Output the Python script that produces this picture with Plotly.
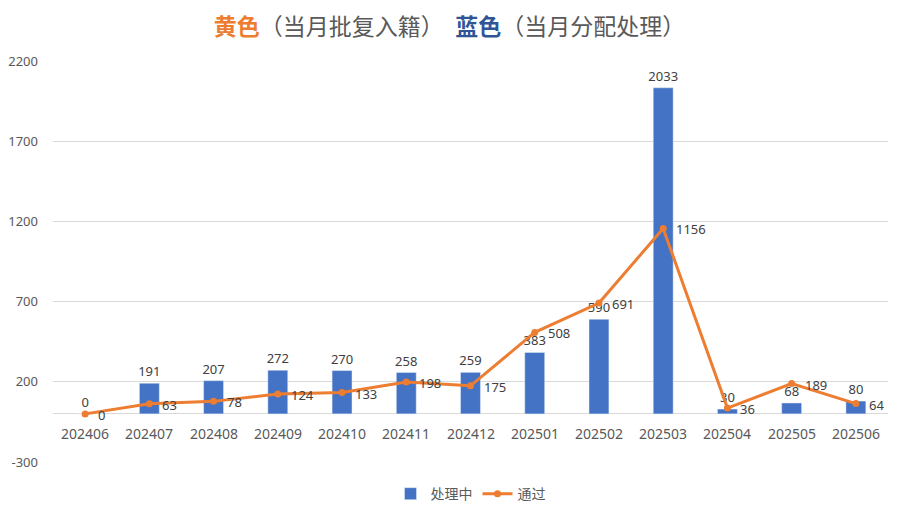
import plotly.graph_objects as go

# 月份
months = ["202406", "202407", "202408", "202409", "202410", "202411", "202412",
          "202501", "202502", "202503", "202504", "202505", "202506"]
# 蓝色: 当月分配处理
processing = [0, 191, 207, 272, 270, 258, 259, 383, 590, 2033, 30, 68, 80]
# 黄色: 当月批复入籍
approved = [0, 63, 78, 124, 133, 198, 175, 508, 691, 1156, 36, 189, 64]

y_ticks = [-300, 200, 700, 1200, 1700, 2200]
y_tick_text = ["-300", "200", "700", "1200", "1700", "2200"]

BLUE = "#4472C4"
ORANGE = "#ED7D31"
TEXT = "#595959"
LABEL = "#404040"
FONT = "Noto Sans, Noto Sans CJK SC, sans-serif"

fig = go.Figure()

fig.add_trace(go.Bar(
    x=months, y=processing, name="处理中",
    marker_color=BLUE, width=0.31,
    text=processing, textposition="outside", constraintext="none",
    textfont=dict(size=13, color=LABEL),
    cliponaxis=False,
))

fig.add_trace(go.Scatter(
    x=months, y=approved, name="通过",
    mode="lines+markers",
    line=dict(color=ORANGE, width=3),
    marker=dict(color=ORANGE, size=7),
    cliponaxis=False,
))

# line labels to the right of each point
# (annotation x on a category axis is the category's serial index)
for i, v in enumerate(approved):
    fig.add_annotation(x=i, y=v, text=str(v), showarrow=False,
                       xanchor="left", xshift=11, yanchor="middle", yshift=-1,
                       font=dict(size=13, color=LABEL))

# category labels sit right under the zero line, like the Excel axis
for i, m in enumerate(months):
    fig.add_annotation(x=i, y=0, text=m, showarrow=False,
                       yanchor="top", yshift=-8,
                       font=dict(size=14, color=TEXT))

title = ("<b><span style='color:#ED7D31'>黄色</span></b>"
         "<span style='color:#595959'>（当月批复入籍）</span>　"
         "<b><span style='color:#2F5597'>蓝色</span></b>"
         "<span style='color:#595959'>（当月分配处理）</span>")

fig.update_layout(
    width=899, height=512,
    paper_bgcolor="white", plot_bgcolor="white",
    font=dict(family=FONT, color=TEXT, size=13),
    title=dict(text=title, x=0.5, xanchor="center", y=0.948, yanchor="middle",
               font=dict(size=23, family="Noto Sans CJK SC")),
    margin=dict(l=53, r=11, t=61, b=50, autoexpand=False),
    showlegend=True,
    legend=dict(orientation="h", x=0.5, xanchor="center", y=-0.04,
                yanchor="top", font=dict(size=14, color=TEXT,
                                         family="Noto Sans CJK SC")),
)

fig.update_xaxes(type="category", range=[-0.5, len(months) - 0.5],
                 showticklabels=False, showgrid=False,
                 showline=False, ticks="")
fig.update_yaxes(range=[-300, 2200], tickvals=y_ticks, ticktext=y_tick_text,
                 showgrid=True, gridcolor="#D9D9D9", gridwidth=1,
                 zeroline=True, zerolinecolor="#D9D9D9", zerolinewidth=1,
                 tickfont=dict(size=13, color=TEXT), ticks="",
                 ticklabelstandoff=14)

# drop the browser's default body margin so the figure sits at the corner
fig.write_html("out.html", config={"displayModeBar": False},
               post_script="document.body.style.margin='0';")
